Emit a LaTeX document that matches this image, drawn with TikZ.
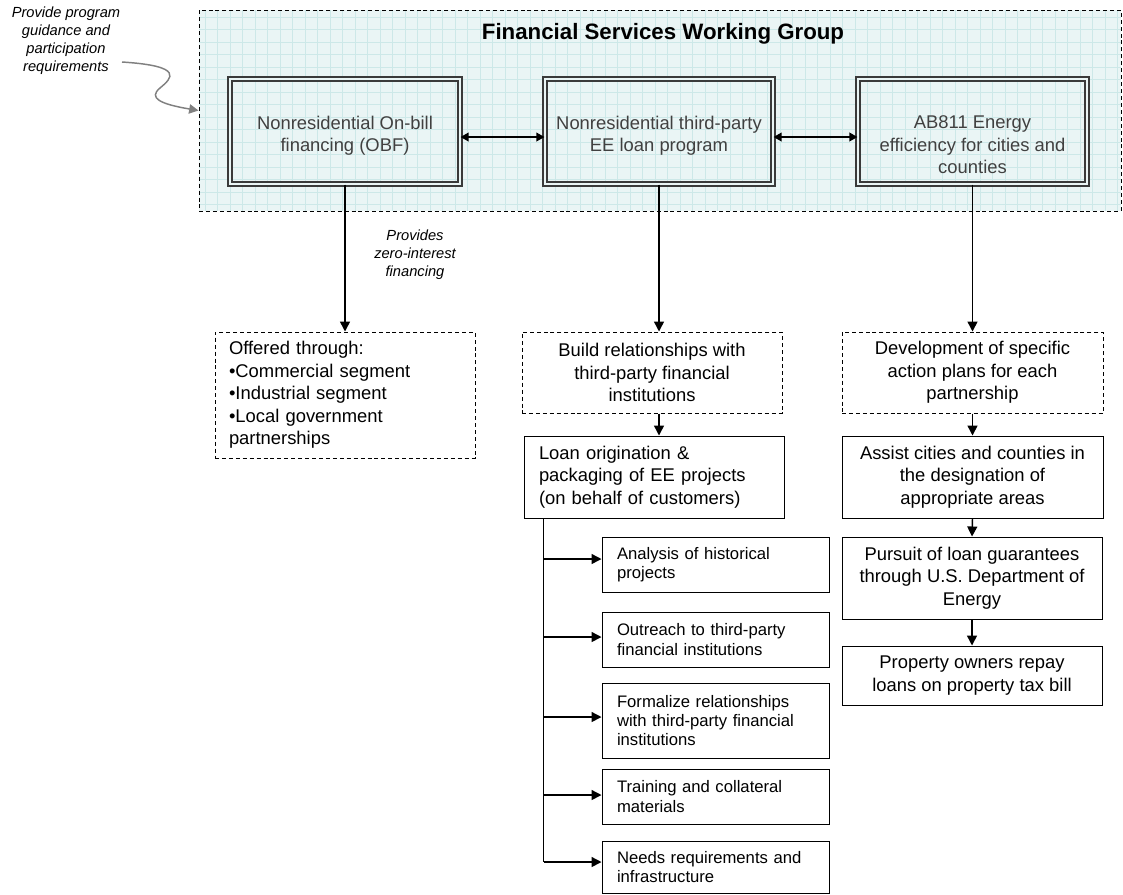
\documentclass[tikz,border=0pt]{standalone}
\usepackage{fontspec}
\setmainfont{Liberation Sans}
\usetikzlibrary{arrows.meta,calc}
\definecolor{grpfill}{HTML}{EAF5F5}
\definecolor{grpgrid}{HTML}{CDE8E8}
\definecolor{boxline}{HTML}{3A3A3A}
\definecolor{boxtext}{HTML}{404040}
\definecolor{annotgray}{HTML}{808080}

\begin{document}
\begin{tikzpicture}[x=0.75pt,y=-0.75pt,
  font=\fontsize{13.8}{16.9}\selectfont,
  % span=left/top/right/bottom places a box by its corners (pixel grid)
  span/.style args={#1/#2/#3/#4}{at={({(#1+#3)/2},{(#2+#4)/2})},
    minimum width={(#3-#1)*0.75pt}, minimum height={(#4-#2)*0.75pt}},
  groupbox/.style={draw, dash pattern=on 3pt off 2.2pt, line width=0.75pt, inner sep=0pt},
  dblbox/.style={draw=boxline, double=grpfill, double distance=2.2pt, line width=0.85pt, inner sep=0pt},
  topcap/.style={text=boxtext, align=center, inner sep=0pt, anchor=north},
  dashbox/.style={draw, dash pattern=on 3pt off 2.2pt, line width=0.75pt, inner sep=0pt, align=center},
  plainbox/.style={draw, line width=0.75pt, inner sep=0pt, align=center},
  subbox/.style={draw, line width=0.75pt, inner sep=0pt, align=left, text width=147.75pt,
    font=\fontsize{12.5}{14.3}\selectfont},
  note/.style={font=\fontsize{11}{13.5}\selectfont\itshape, align=center, inner sep=0pt},
  arr/.style={line width=1.1pt, -{Triangle[length=7.5pt,width=7.5pt]}},
  dblarr/.style={line width=1.1pt, {Triangle[length=6pt,width=6.5pt]}-{Triangle[length=6pt,width=6.5pt]}},
  link/.style={line width=1.1pt},
  guidearr/.style={draw=annotgray, line width=1.1pt, -{Triangle[length=7pt,width=7pt]}, fill=none}
]
\useasboundingbox (0,0) rectangle (1123,894);

% working group backdrop with its grid
\fill[grpfill] (199,10) rectangle (1121,211);
\begin{scope}
  \clip (199,10) rectangle (1121,211);
  \foreach \gx in {205,217.5,...,1121} \draw[grpgrid, line width=0.5pt] (\gx,10) -- (\gx,211);
  \foreach \gy in {17,29.5,...,211} \draw[grpgrid, line width=0.5pt] (199,\gy) -- (1121,\gy);
\end{scope}
\node[groupbox, span=199/10/1121/211] (grp) {};
\node[font=\fontsize{16.7}{20}\selectfont\bfseries, inner sep=0pt] (title) at (663,34)
  {Financial Services Working Group};

% the three programmes
\node[dblbox, span=230/79/460/184] (obf) {};
\node[dblbox, span=545/79/773/184] (ee) {};
\node[dblbox, span=858/79/1087/184] (ab) {};
\node[topcap] (obft) at ($(obf.north)+(0,37)$) {Nonresidential On-bill\\financing (OBF)};
\node[topcap] (eet) at ($(ee.north)+(0,37)$) {Nonresidential third-party\\EE loan program};
\node[topcap] (abt) at ($(ab.north)+(0,37)$) {AB811 Energy\\efficiency for cities and\\counties};

\draw[dblarr] ($(obf.east)+(0,5.5)$) -- ($(ee.west)+(0,5.5)$);
\draw[dblarr] ($(ee.east)+(0,5.5)$) -- ($(ab.west)+(0,5.5)$);

% guidance note
\node[note] (guide) at (66,41) {Provide program\\guidance and\\participation\\requirements};
\coordinate (gstart) at (122,62);
\coordinate (grpin) at ($(grp.north west)!0.5!(grp.south west)$);
\draw[guidearr] (gstart) .. controls (185,66) and (172,78) .. (160,88)
  .. controls (148,98) and (160,104) .. (grpin);

% second tier
\node[dashbox, align=left, text width=174pt, span=215/332/475/458] (offer)
  {Offered through:\\\textbullet Commercial segment\\\textbullet Industrial segment\\\textbullet Local government\\partnerships};
\node[dashbox, span=522/332/782/413] (build)
  {Build relationships with\\third-party financial\\institutions};
\node[dashbox, span=842/332/1103/413] (dev)
  {Development of specific\\action plans for each\\partnership};

\node[note] (zero) at (415,255) {Provides\\zero-interest\\financing};

\draw[arr] (obf.south) -- (obf.south |- offer.north);
\draw[arr] (ee.south) -- (ee.south |- build.north);
\draw[arr] (ab.south) -- (ab.south |- dev.north);

% third-party loan branch
\node[plainbox, align=left, text width=172.5pt, span=524/436/784/518] (loan)
  {Loan origination \&\\packaging of EE projects\\(on behalf of customers)};
\draw[arr] (ee.south |- build.south) -- (ee.south |- loan.north);

\node[subbox, span=602/537/829/592] (s1) {Analysis of historical\\projects};
\node[subbox, span=602/612/829/667] (s2) {Outreach to third-party\\financial institutions};
\node[subbox, span=602/683/829/758] (s3) {Formalize relationships\\with third-party financial\\institutions};
\node[subbox, span=602/769/829/824] (s4) {Training and collateral\\materials};
\node[subbox, span=602/841/829/893] (s5) {Needs requirements and\\infrastructure};

\coordinate (trunk) at ($(loan.south west)+(20,0)$);
\draw[link] (trunk) -- (trunk |- 0,862);
\draw[arr] (trunk |- 0,559) -- (s1.west |- 0,559);
\draw[arr] (trunk |- 0,637) -- (s2.west |- 0,637);
\draw[arr] (trunk |- 0,717) -- (s3.west |- 0,717);
\draw[arr] (trunk |- 0,795) -- (s4.west |- 0,795);
\draw[arr] (trunk |- 0,862) -- (s5.west |- 0,862);

% AB811 chain
\node[plainbox, span=842/436/1103/518] (assist)
  {Assist cities and counties in\\the designation of\\appropriate areas};
\node[plainbox, span=842/537/1102/619] (pursuit)
  {Pursuit of loan guarantees\\through U.S. Department of\\Energy};
\node[plainbox, span=842/646/1102/705] (owners)
  {Property owners repay\\loans on property tax bill};

\draw[arr] (dev.south) -- (assist.north);
\draw[arr] (assist.south) -- (pursuit.north);
\draw[arr] (pursuit.south) -- (owners.north);
\end{tikzpicture}
\end{document}
